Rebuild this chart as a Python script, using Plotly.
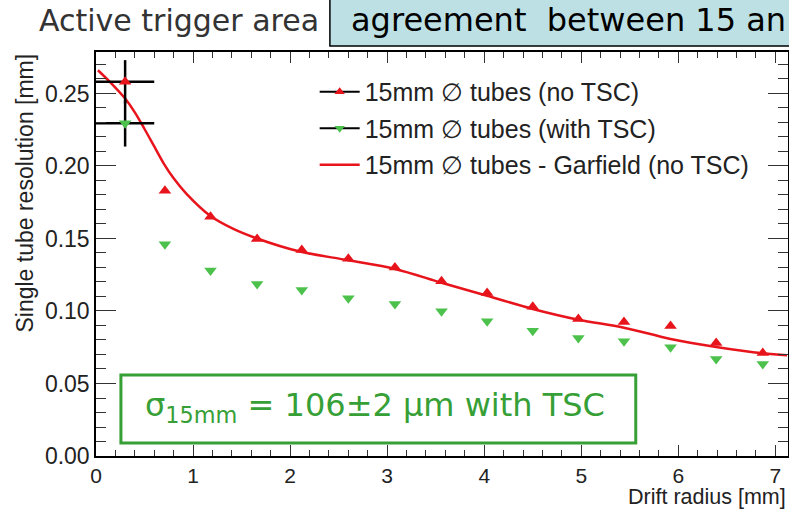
import plotly.graph_objects as go

# ---- data ----
drift_r = [0.3, 0.71, 1.18, 1.66, 2.12, 2.6, 3.08, 3.56, 4.03, 4.5, 4.97, 5.44, 5.92, 6.39, 6.87]
res_no_tsc = [0.258, 0.183, 0.165, 0.1497, 0.142, 0.136, 0.130, 0.1205, 0.1124, 0.103, 0.0945, 0.0924, 0.0897, 0.078, 0.071]
res_with_tsc = [0.2294, 0.146, 0.128, 0.1186, 0.1145, 0.1088, 0.1048, 0.0998, 0.0929, 0.0864, 0.0814, 0.0791, 0.075, 0.0669, 0.0634]
err_x = [0.3, 0, 0, 0, 0, 0, 0, 0, 0, 0, 0, 0, 0, 0, 0]
err_y_no_tsc = [0.015, 0, 0, 0, 0, 0, 0, 0, 0, 0, 0, 0, 0, 0, 0]
err_y_with_tsc = [0.016, 0, 0, 0, 0, 0, 0, 0, 0, 0, 0, 0, 0, 0, 0]

garfield_r = [0.02, 0.15, 0.3, 0.4, 0.5, 0.6, 0.7, 0.8, 0.93, 1.18, 1.41, 1.66, 2.1, 2.6, 3.08, 3.56, 4.03, 4.5, 4.97, 5.44, 5.92, 6.39, 6.87, 7.12]
garfield_res = [0.266, 0.2575, 0.2465, 0.2370, 0.2255, 0.2135, 0.2015, 0.1915, 0.1810, 0.1655, 0.1568, 0.1500, 0.1410, 0.1350, 0.1290, 0.1195, 0.1105, 0.1014, 0.0940, 0.0885, 0.0807, 0.0752, 0.0708, 0.0695]

legend_names = ["15mm \u2205 tubes (no TSC)", "15mm \u2205 tubes (with TSC)", "15mm \u2205 tubes - Garfield (no TSC)"]

RED = "#e8141c"
GREEN_M = "#4cc24c"
GREEN_BOX = "#36a036"
FONT = "Liberation Sans, Arial, sans-serif"
SLIDE_FONT = "DejaVu Sans, sans-serif"

fig = go.Figure()

# Garfield curve
fig.add_trace(go.Scatter(x=garfield_r, y=garfield_res, mode="lines",
                         line=dict(color=RED, width=2.5, shape="spline", smoothing=1.0),
                         showlegend=False, hoverinfo="skip"))
# with TSC
fig.add_trace(go.Scatter(x=drift_r, y=res_with_tsc, mode="markers",
                         marker=dict(symbol="triangle-down", size=11, color=GREEN_M),
                         error_x=dict(type="data", array=err_x, color="black", thickness=2.5, width=0),
                         error_y=dict(type="data", array=err_y_with_tsc, color="black", thickness=2.5, width=0),
                         showlegend=False))
# no TSC
fig.add_trace(go.Scatter(x=drift_r, y=res_no_tsc, mode="markers",
                         marker=dict(symbol="triangle-up", size=11, color=RED),
                         error_x=dict(type="data", array=err_x, color="black", thickness=2.5, width=0),
                         error_y=dict(type="data", array=err_y_no_tsc, color="black", thickness=2.5, width=0),
                         showlegend=False))

# legend entries
fig.add_trace(go.Scatter(x=[None], y=[None], mode="lines+markers", name=legend_names[0], legendgroup="a",
                         line=dict(color="black", width=2), marker=dict(symbol="triangle-up", size=9, color=RED)))
fig.add_trace(go.Scatter(x=[None], y=[None], mode="lines+markers", name=legend_names[1], legendgroup="b",
                         line=dict(color="black", width=2), marker=dict(symbol="triangle-down", size=9, color=GREEN_M)))
fig.add_trace(go.Scatter(x=[None], y=[None], mode="lines", name=legend_names[2], legendgroup="c",
                         line=dict(color=RED, width=2.5)))

axis_common = dict(showline=True, linecolor="black", linewidth=1.5, mirror="ticks", ticks="inside",
                   tickcolor="#333", tickwidth=1.3, showgrid=False, zeroline=False, automargin=False)

fig.update_xaxes(range=[0, 7.13], dtick=1, tick0=0, ticklen=11,
                 tickfont=dict(family=FONT, size=21, color="#222"),
                 minor=dict(dtick=0.2, ticks="inside", ticklen=6, tickcolor="#333", showgrid=False),
                 **axis_common)
fig.update_yaxes(range=[0, 0.2786], dtick=0.05, tick0=0, ticklen=20, tickformat=".2f",
                 tickfont=dict(family=FONT, size=23, color="#222"),
                 minor=dict(dtick=0.01, ticks="inside", ticklen=10, tickcolor="#333", showgrid=False),
                 **axis_common)

fig.update_layout(
    width=789, height=509,
    margin=dict(l=96, r=1, t=52, b=53),
    paper_bgcolor="white", plot_bgcolor="white",
    legend=dict(x=0.316, y=0.958, xanchor="left", yanchor="top", bgcolor="rgba(0,0,0,0)",
                font=dict(family=FONT, size=25, color="#222"), tracegroupgap=1, itemwidth=40),
    shapes=[
        dict(type="rect", xref="paper", yref="paper", x0=0.036, x1=0.780, y0=0.032, y1=0.2005,
             line=dict(color=GREEN_BOX, width=3), fillcolor="white", layer="above"),
        dict(type="rect", xref="paper", yref="paper", x0=0.338, x1=1.1, y0=1.015, y1=1.2,
             line=dict(color="black", width=1.5), fillcolor="#bde0e4", layer="above"),
    ],
    annotations=[
        dict(text="Single tube resolution [mm]", textangle=-90, xref="paper", yref="paper",
             x=-0.104, y=1.0, xanchor="center", yanchor="top", showarrow=False,
             font=dict(family=FONT, size=23, color="#222")),
        dict(text="Drift radius [mm]", xref="paper", yref="paper", x=1.0, y=-0.101,
             xanchor="right", yanchor="middle", showarrow=False,
             font=dict(family=FONT, size=21.5, color="#222")),
        dict(text="\u03c3<sub>15mm</sub> = 106\u00b12 \u03bcm with TSC", xref="paper", yref="paper",
             x=0.068, y=0.121, xanchor="left", yanchor="middle", showarrow=False,
             font=dict(family=SLIDE_FONT, size=32, color=GREEN_BOX)),
        dict(text="Active trigger area", xref="paper", yref="paper", x=-0.085, y=1.079,
             xanchor="left", yanchor="middle", showarrow=False,
             font=dict(family=SLIDE_FONT, size=30, color="#333")),
        dict(text="agreement \u00a0between 15 an", xref="paper", yref="paper", x=0.366, y=1.079,
             xanchor="left", yanchor="middle", showarrow=False,
             font=dict(family=SLIDE_FONT, size=32, color="black")),
    ],
)

fig.write_html("out.html", config={"displayModeBar": False},
               post_script="document.body.style.margin='0';document.body.style.padding='0';")
